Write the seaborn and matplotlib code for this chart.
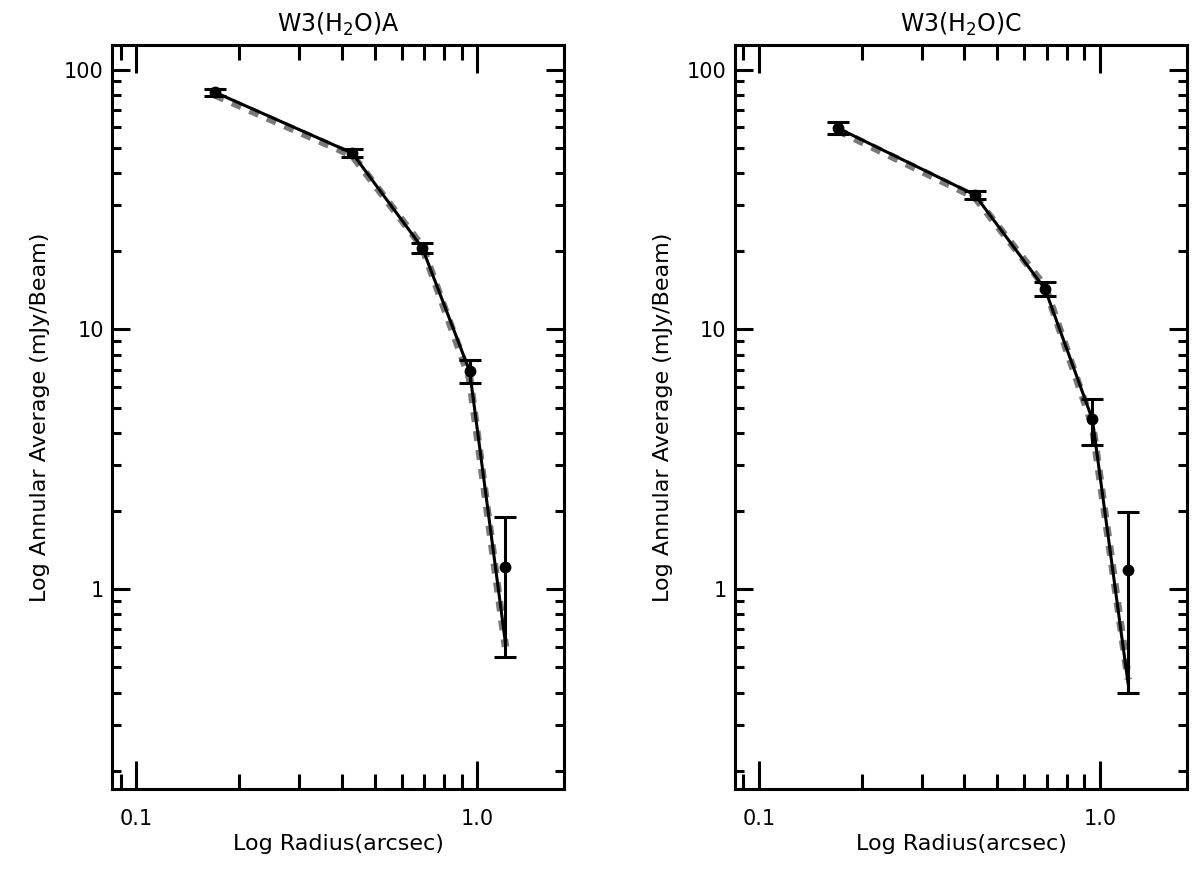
import numpy as np
import pandas as pd
import matplotlib
matplotlib.use("Agg")
import matplotlib.pyplot as plt
import matplotlib.ticker as mticker
import seaborn as sns

sns.set_theme(style="white")
plt.rcParams['font.family'] = ['DejaVu Sans']
plt.rcParams['text.color'] = 'black'
plt.rcParams['axes.labelcolor'] = 'black'
plt.rcParams['xtick.color'] = 'black'
plt.rcParams['ytick.color'] = 'black'

# annular radii (arcsec)
radius = [0.17, 0.43, 0.69, 0.95, 1.21]

# W3(H2O)A
a_obs = [81.8, 47.7, 20.6, 6.9, 1.22]
a_err = [2.4, 1.6, 0.85, 0.7, 0.67]
a_line = [81.8, 47.7, 20.6, 6.9, 0.62]
a_model = [80.0, 46.8, 20.8, 6.5, 0.60]

# W3(H2O)C
c_obs = [59.6, 32.9, 14.3, 4.5, 1.19]
c_err = [3.0, 1.1, 0.9, 0.9, 0.79]
c_line = [59.6, 32.9, 14.3, 4.5, 0.43]
c_model = [58.5, 32.3, 14.6, 4.3, 0.45]

panels = [
    ("W3(H$_2$O)A", a_obs, a_err, a_line, a_model),
    ("W3(H$_2$O)C", c_obs, c_err, c_line, c_model),
]

fig = plt.figure(figsize=(11.93, 8.71), dpi=100)
lefts = [0.094, 0.616]

for left, (title, obs, err, line, model) in zip(lefts, panels):
    ax = fig.add_axes([left, 0.094, 0.379, 0.854])
    df = pd.DataFrame({'r': radius, 'obs': obs, 'err': err, 'line': line, 'model': model})

    # model fit (grey dashed) underneath
    sns.lineplot(data=df, x='r', y='model', ax=ax, color='#7a7a7a', lw=5.5,
                 sort=False, estimator=None)
    ax.lines[-1].set_dashes([1.3, 1.2])
    # profile (black solid)
    sns.lineplot(data=df, x='r', y='line', ax=ax, color='black', lw=2.2,
                 sort=False, estimator=None)
    ax.errorbar(df['r'], df['obs'], yerr=df['err'], fmt='o', color='black',
                ms=7.5, elinewidth=2.2, capsize=8, capthick=2.2, zorder=5)

    ax.set_xscale('log')
    ax.set_yscale('log')
    ax.set_xlim(0.085, 1.8)
    ax.set_ylim(0.17, 124)

    ax.xaxis.set_major_locator(mticker.FixedLocator([0.1, 1.0]))
    ax.xaxis.set_major_formatter(mticker.FixedFormatter(['0.1', '1.0']))
    ax.xaxis.set_minor_locator(mticker.LogLocator(subs=np.arange(2, 10) * 1.0))
    ax.xaxis.set_minor_formatter(mticker.NullFormatter())
    ax.yaxis.set_major_locator(mticker.FixedLocator([1, 10, 100]))
    ax.yaxis.set_major_formatter(mticker.FixedFormatter(['1', '10', '100']))
    ax.yaxis.set_minor_locator(mticker.LogLocator(subs=np.arange(2, 10) * 1.0))
    ax.yaxis.set_minor_formatter(mticker.NullFormatter())

    ax.tick_params(which='both', direction='in', top=True, right=True,
                   bottom=True, left=True, width=2.2, color='black',
                   labelsize=15, labelcolor='black')
    ax.tick_params(axis='x', which='major', length=20, pad=14)
    ax.tick_params(axis='x', which='minor', length=11)
    ax.tick_params(axis='y', which='major', length=13, pad=6)
    ax.tick_params(axis='y', which='minor', length=6.5)

    for s in ax.spines.values():
        s.set_linewidth(2.2)
        s.set_color('black')

    ax.set_xlabel('Log Radius(arcsec)', fontsize=16, labelpad=4)
    ax.set_ylabel('Log Annular Average (mJy/Beam)', fontsize=16, labelpad=10)
    ax.set_title(title, fontsize=17, pad=10)

fig.savefig('out.png', dpi=100)
